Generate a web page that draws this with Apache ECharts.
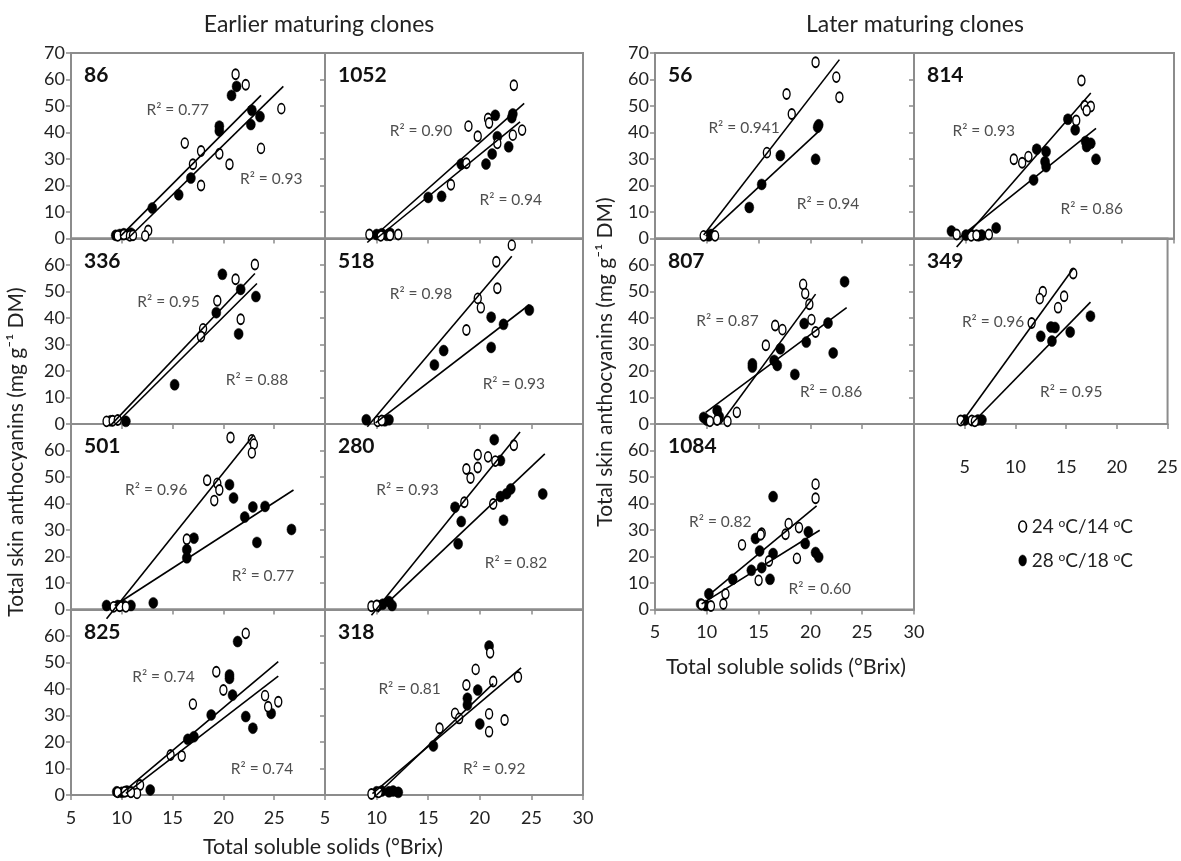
<!DOCTYPE html>
<html><head><meta charset="utf-8">
<script src="https://cdn.jsdelivr.net/npm/echarts@6/dist/echarts.min.js"></script>
<style>html,body{margin:0;padding:0;background:#fff}#c{width:1181px;height:861px}</style>
</head><body><div id="c"></div>
<script>
// ---------- DATA ----------
// open = 24 °C/14 °C, filled = 28 °C/18 °C ; lines = trend line end points ; r2 = [x, y, text]
const xTicksLeft = [5, 10, 15, 20, 25, 30];
const yTicks = [0, 10, 20, 30, 40, 50, 60, 70];

const open_86 = [[21.2,62],[22.2,58],[25.7,49],[16.2,36],[17.8,33],[23.7,34],[17.0,28],[19.6,32],[20.6,28],[17.8,20],[12.6,3],[12.3,1],[9.6,1],[10.2,1.5],[10.8,1],[11.1,1.2]];
const filled_86 = [[20.8,54],[21.3,57.4],[19.6,42.4],[19.6,40.6],[22.8,48.4],[22.7,43],[23.6,46],[16.8,22.8],[15.6,16.5],[13,11.5],[9.4,1.2],[9.8,1.5],[10.2,1.8],[10.6,1.5],[10.9,2]];
const lines_86 = [[[9.9,1],[23.7,54]], [[10.6,0],[25.9,57.4]]];
const r2_86 = [[15.5,48.6,'0.77'],[24.7,22.4,'0.93']];

const open_1052 = [[23.3,57.8],[18.9,42.4],[19.8,38.6],[20.8,45.3],[20.9,43.6],[23.2,39],[24.1,40.9],[21.7,35.9],[18.7,28.4],[17.2,20.3],[9.3,1.5],[10.4,1],[11.3,1.2],[12.1,1.5]];
const filled_1052 = [[23.2,47],[23.1,45.6],[21.5,46.5],[21.7,38.4],[21.2,31.9],[20.6,28.1],[22.8,34.6],[18.2,28.1],[15,15.5],[16.3,15.9],[10,1.5],[10.5,1.8],[11,1.2],[11.3,2]];
const lines_1052 = [[[9.1,-1.5],[24.3,51]], [[10,0],[23.9,44]]];
const r2_1052 = [[14.3,40.6,'0.90'],[23,14.4,'0.94']];

const open_336 = [[23.1,60.2],[21.2,54.6],[19.4,46.5],[21.7,39.5],[18.0,35.9],[17.8,33],[8.5,1],[9.1,1.2],[9.6,1.5]];
const filled_336 = [[19.9,56.5],[21.7,50.8],[23.2,48.1],[19.3,42],[21.5,34],[15.2,14.8],[8.9,1.2],[10.4,1]];
const lines_336 = [[[8.9,-0.5],[23.1,56.8]], [[9.4,0],[23.3,53]]];
const r2_336 = [[14.6,46.2,'0.95'],[23.3,16.7,'0.88']];

const open_518 = [[23.1,67.5],[21.6,61.2],[21.7,51.2],[19.8,47.4],[20.1,43.9],[18.7,35.5],[10.1,1],[10.5,1.3]];
const filled_518 = [[24.8,43],[22.3,37.6],[21.1,40.3],[21.1,28.9],[16.5,27.7],[15.6,22.3],[9,1.6],[11.2,1.6],[10.8,1.2]];
const lines_518 = [[[9.1,-1],[23.1,63.3]], [[9.9,0.4],[24.8,45]]];
const r2_518 = [[14.3,49,'0.98'],[23.3,15.2,'0.93']];

const open_501 = [[20.7,64.9],[22.8,64],[23,62.4],[22.8,59.1],[18.4,48.8],[19.4,47.6],[19.6,45.1],[19.1,41.1],[16.4,26.5],[9.2,1],[9.8,1.2],[10.4,1]];
const filled_501 = [[20.6,47.1],[21,42.1],[22.1,34.9],[22.9,38.7],[24.1,38.9],[23.3,25.3],[26.7,30.2],[17.1,26.9],[16.4,22.6],[16.4,19.5],[13.1,2.5],[8.5,1.5],[9.6,1.5],[10.2,1.5],[10.9,1.5]];
const lines_501 = [[[8.5,-3.5],[23,65.9]], [[9.3,1.5],[26.9,45.1]]];
const r2_501 = [[13.4,45.1,'0.96'],[23.9,12.6,'0.77']];

const open_280 = [[23.3,62],[19.8,58.4],[20.8,57.6],[21.5,56],[18.7,53],[19.8,53.6],[19.1,49.6],[18.5,40.5],[21.3,39.8],[9.5,1.2],[10,1.5]];
const filled_280 = [[21.4,64.1],[22,56.2],[22,42.6],[22.3,33.7],[22.6,43.7],[23,45.5],[26.1,43.6],[17.6,38.6],[18.2,33.2],[17.9,24.8],[10.1,1.5],[10.6,2],[11.2,3],[11.5,1.5]];
const lines_280 = [[[9.5,-2.2],[23.9,67]], [[10.1,-1],[26.3,58.7]]];
const r2_280 = [[13,45.1,'0.93'],[23.5,17.4,'0.82']];

const open_825 = [[22.2,61],[19.3,46.5],[20,39.6],[17,34.3],[24.1,37.5],[24.4,33.3],[25.4,35.2],[14.8,15.1],[15.9,14.7],[11.8,3.8],[11.5,0.6],[9.6,1],[10.3,1.2],[10.9,1]];
const filled_825 = [[21.4,57.9],[20.6,45.3],[20.6,44],[20.9,37.7],[18.8,30.2],[22.2,29.6],[22.9,25.2],[24.7,30.8],[16.5,21],[17.1,22],[12.8,1.9],[9.5,1.2],[10,1],[10.5,1.5],[10.9,1.2]];
const lines_825 = [[[9.6,-0.6],[25.4,50.3]], [[10.4,0.6],[25.4,44.9]]];
const r2_825 = [[14.1,44.4,'0.74'],[23.8,10,'0.74']];

const open_318 = [[21,53.7],[19.6,47.4],[18.7,41.5],[21.3,42.8],[23.7,44.5],[17.6,30.8],[18,28.9],[16.1,25.2],[20.9,30.6],[20.9,23.9],[22.4,28.3],[9.5,0.4],[10.2,1]];
const filled_318 = [[20.9,56.2],[19.8,39.6],[18.8,36.5],[18.8,34],[20,26.8],[15.5,18.5],[10,1.2],[10.5,1.5],[11.2,1.2],[11.6,1.5],[12.1,1]];
const lines_318 = [[[9.6,0.5],[24,48]], [[10,0],[21.3,42]]];
const r2_318 = [[13.2,39.9,'0.81'],[21.4,10,'0.92']];

const open_56 = [[20.5,66.5],[22.5,60.9],[22.8,53.3],[17.7,54.5],[18.2,47],[15.8,32.4],[9.7,1],[10.8,1]];
const filled_56 = [[20.8,42.9],[20.7,42],[20.5,29.9],[17.1,31.3],[15.3,20.4],[14.1,11.7],[10.2,1],[10.4,1.5]];
const lines_56 = [[[9.7,1.3],[22.8,67.5]], [[9.9,0.9],[20.8,40.4]]];
const r2_56 = [[13.6,41.6,'0.941'],[21.7,13.2,'0.94']];

const open_814 = [[16.1,59.6],[16.4,50.1],[17,49.8],[16.6,48.3],[15.6,44.5],[9.6,29.9],[10.4,28.6],[11,30.9],[4.1,1.5],[7.2,1.5],[5.5,1],[6,1.2]];
const filled_814 = [[14.8,45],[15.5,41],[11.8,33.7],[12.7,32.8],[12.6,29],[12.7,27.1],[11.5,22.1],[16.5,36.6],[17,35.9],[16.6,34.7],[17.5,29.9],[7.9,4],[3.6,2.8],[5,1.3],[5.5,1.5],[6.5,1.3],[6.2,1]];
const lines_814 = [[[4.1,-3.2],[17,54.9]], [[4.4,0.4],[17.5,41.6]]];
const r2_814 = [[6.7,40.7,'0.93'],[17.1,11,'0.86']];

const open_807 = [[19.3,52.7],[19.5,49.2],[19.9,45.2],[20.1,39.4],[20.5,34.7],[16.6,37.2],[17.3,35.6],[15.7,29.7],[12.9,4.4],[12,1],[10.3,1],[11,1.5]];
const filled_807 = [[23.3,53.7],[21.7,38.1],[19.4,37.9],[19.6,30.9],[22.2,26.8],[18.5,18.7],[17.1,28.4],[16.5,24],[16.8,22.1],[14.4,22.7],[14.4,21.5],[11,5.1],[9.7,2.5],[11.2,2.8],[10,1.5]];
const lines_807 = [[[11.3,0],[20.5,49]], [[9.9,4.4],[23.5,43.9]]];
const r2_807 = [[12,38.9,'0.87'],[22,12,'0.86']];

const open_349 = [[15.7,56.8],[12.7,49.9],[12.4,47.3],[14.8,48.2],[14.2,43.9],[11.6,38.1],[4.6,1.3],[5.7,1.3],[6,1]];
const filled_349 = [[17.4,40.7],[13.5,36.6],[13.9,36.4],[12.5,33.1],[13.6,31.3],[15.4,34.7],[5,1.5],[6.3,1.5],[6.7,1.5]];
const lines_349 = [[[4.6,0],[15.7,58.7]], [[5.6,-0.3],[17.4,46]]];
const r2_349 = [[7.8,38.5,'0.96'],[15.5,12,'0.95']];

const open_1084 = [[20.5,47.3],[20.5,42],[17.9,32.4],[18.9,30.9],[17.6,28.4],[15.3,28.8],[15.2,28.2],[13.4,24.4],[16,18.3],[18.7,19.3],[15,11],[11.8,5.9],[11.6,2.1],[10.4,1.3],[9.5,1.9]];
const filled_1084 = [[16.4,42.6],[14.7,26.8],[15.1,22.1],[16.4,21.1],[19.8,29.3],[19.5,24.9],[20.5,21.5],[20.8,19.8],[15.3,15.8],[14.3,14.8],[12.5,11.4],[16.1,11.4],[10.2,5.9],[9.4,2.1],[9.9,1.5]];
const lines_1084 = [[[10.1,5.1],[20.6,39.1]], [[9.5,2.1],[20.9,29.9]]];
const r2_1084 = [[11.3,33.2,'0.82'],[20.9,7.6,'0.60']];

const seriesNames = ['24 °C/14 °C', '28 °C/18 °C'];

// ---------- LAYOUT ----------
const FONT = 'Lato, "Open Sans", sans-serif';
const TXT = '#222222';
const AX = '#8c8c8c';
const ELL = 'path://M0,50 A35,50 0 1 1 70,50 A35,50 0 1 1 0,50 Z';
const LC = [71, 325], RC = [655, 914];
const ROWS = [53, 238.5, 424, 609.5];
const H = 185.5;

const panels = [
  {id:'86',   o:open_86,   f:filled_86,   l:lines_86,   r:r2_86,   box:[LC[0],ROWS[0],254,H], xr:[5,30], yl:'top'},
  {id:'1052', o:open_1052, f:filled_1052, l:lines_1052, r:r2_1052, box:[LC[1],ROWS[0],258,H], xr:[5,30]},
  {id:'336',  o:open_336,  f:filled_336,  l:lines_336,  r:r2_336,  box:[LC[0],ROWS[1],254,H], xr:[5,30], yl:'mid'},
  {id:'518',  o:open_518,  f:filled_518,  l:lines_518,  r:r2_518,  box:[LC[1],ROWS[1],258,H], xr:[5,30]},
  {id:'501',  o:open_501,  f:filled_501,  l:lines_501,  r:r2_501,  box:[LC[0],ROWS[2],254,H], xr:[5,30], yl:'mid'},
  {id:'280',  o:open_280,  f:filled_280,  l:lines_280,  r:r2_280,  box:[LC[1],ROWS[2],258,H], xr:[5,30]},
  {id:'825',  o:open_825,  f:filled_825,  l:lines_825,  r:r2_825,  box:[LC[0],ROWS[3],254,H], xr:[5,30], yl:'mid', xl:{min:true,max:false,margin:14}},
  {id:'318',  o:open_318,  f:filled_318,  l:lines_318,  r:r2_318,  box:[LC[1],ROWS[3],258,H], xr:[5,30], xl:{min:true,max:true,margin:14}},
  {id:'56',   o:open_56,   f:filled_56,   l:lines_56,   r:r2_56,   box:[RC[0],ROWS[0],259,H], xr:[5,30], yl:'top'},
  {id:'814',  o:open_814,  f:filled_814,  l:lines_814,  r:r2_814,  box:[RC[1],ROWS[0],260,H], xr:[0,25]},
  {id:'807',  o:open_807,  f:filled_807,  l:lines_807,  r:r2_807,  box:[RC[0],ROWS[1],259,H], xr:[5,30], yl:'mid'},
  {id:'349',  o:open_349,  f:filled_349,  l:lines_349,  r:r2_349,  box:[RC[1],ROWS[1],260,H], xr:[0,25], xl:{min:false,max:true,margin:34}},
  {id:'1084', o:open_1084, f:filled_1084, l:lines_1084, r:r2_1084, box:[RC[0],ROWS[2],259,H], xr:[5,30], yl:'mid', xl:{min:true,max:true,margin:14}}
];

const grid = [], xAxis = [], yAxis = [], series = [], graphic = [];
panels.forEach((p, i) => {
  grid.push({left:p.box[0], top:p.box[1], width:p.box[2], height:p.box[3], show:true, borderColor:AX, borderWidth:2, backgroundColor:'transparent'});
  xAxis.push({gridIndex:i, type:'value', min:p.xr[0], max:p.xr[1], interval:5,
    axisLine:{onZero:false, lineStyle:{color:AX, width:2}},
    axisTick:{show:true, length:5, lineStyle:{color:AX, width:1.5}},
    splitLine:{show:false},
    axisLabel:{show:!!p.xl, showMinLabel:p.xl?p.xl.min:false, showMaxLabel:p.xl?p.xl.max:false, margin:p.xl?p.xl.margin:8, color:TXT, fontSize:18, fontFamily:FONT}});
  yAxis.push({gridIndex:i, type:'value', min:0, max:70, interval:10,
    axisLine:{show:true, onZero:false, lineStyle:{color:AX, width:2}},
    axisTick:{show:true, length:5, lineStyle:{color:AX, width:1.5}},
    splitLine:{show:false},
    axisLabel:{show:!!p.yl, showMinLabel:true, showMaxLabel:p.yl==='top', margin:6, color:TXT, fontSize:18, fontFamily:FONT}});
  series.push({type:'scatter', name:seriesNames[1], xAxisIndex:i, yAxisIndex:i, data:p.f, symbol:ELL, symbolSize:[9,11],
    itemStyle:{color:'#000', borderColor:'#000', borderWidth:0.5, opacity:1}, z:2, silent:true});
  series.push({type:'scatter', name:seriesNames[0], xAxisIndex:i, yAxisIndex:i, data:p.o, symbol:ELL, symbolSize:[7,10],
    itemStyle:{color:'#fff', borderColor:'#000', borderWidth:1.6, opacity:1}, z:3, silent:true});
  p.l.forEach(seg => series.push({type:'line', xAxisIndex:i, yAxisIndex:i, data:seg, symbol:'none', clip:false,
    lineStyle:{color:'#000', width:1.6}, z:4, silent:true}));
  series.push({type:'scatter', xAxisIndex:i, yAxisIndex:i, symbol:'circle', symbolSize:1, itemStyle:{color:'rgba(0,0,0,0)'},
    data:p.r.map(d => ({value:[d[0], d[1]], t:d[2]})), z:5, silent:true,
    label:{show:true, position:'inside', formatter:q => 'R\u00B2 = ' + q.data.t, color:TXT, fontSize:15.5, fontFamily:FONT}});
  graphic.push({type:'text', left:p.box[0] + 13, top:p.box[1] + 12, z:10,
    style:{text:p.id, fontSize:21, fontWeight:'bold', fill:'#111', fontFamily:FONT}});
});

const yTitle = 'Total skin anthocyanins (mg g\u207B\u00B9 DM)';
const xTitle = 'Total soluble solids (\u00B0Brix)';
graphic.push(
  {type:'text', x:319, y:25, style:{text:'Earlier maturing clones', fontSize:23, fill:TXT, fontFamily:FONT, align:'center', verticalAlign:'middle'}},
  {type:'text', x:915, y:25, style:{text:'Later maturing clones', fontSize:23, fill:TXT, fontFamily:FONT, align:'center', verticalAlign:'middle'}},
  {type:'text', x:323, y:847, style:{text:xTitle, fontSize:21.5, fill:TXT, fontFamily:FONT, align:'center', verticalAlign:'middle'}},
  {type:'text', x:786, y:667, style:{text:xTitle, fontSize:21.5, fill:TXT, fontFamily:FONT, align:'center', verticalAlign:'middle'}},
  {type:'text', x:16, y:452, rotation:Math.PI/2, style:{text:yTitle, fontSize:21, fill:TXT, fontFamily:FONT, align:'center', verticalAlign:'middle'}},
  {type:'text', x:605, y:362, rotation:Math.PI/2, style:{text:yTitle, fontSize:21, fill:TXT, fontFamily:FONT, align:'center', verticalAlign:'middle'}}
);

const chart = echarts.init(document.getElementById('c'), null, {renderer:'canvas'});
chart.setOption({
  animation:false,
  backgroundColor:'#fff',
  grid, xAxis, yAxis, series, graphic,
  legend:{orient:'vertical', left:1013, top:512, itemWidth:8, itemHeight:11, itemGap:15, selectedMode:false,
    data:[
      {name:seriesNames[0], icon:ELL, itemStyle:{color:'#fff', borderColor:'#000', borderWidth:1.6, opacity:1}},
      {name:seriesNames[1], icon:ELL, itemStyle:{color:'#000', borderColor:'#000', borderWidth:0.5, opacity:1}}
    ],
    formatter: n => n.replace(/\u00B0/g, '{s|o}'),
    textStyle:{fontSize:19, color:TXT, fontFamily:FONT, rich:{s:{fontSize:12, verticalAlign:'top', color:TXT, fontFamily:FONT}}}
  }
});
</script></body></html>
